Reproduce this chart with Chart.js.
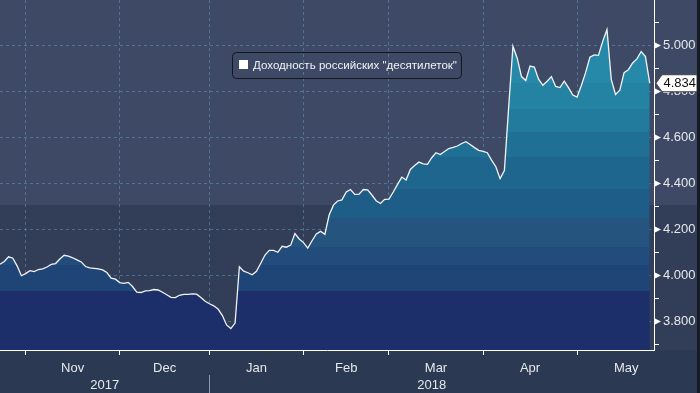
<!DOCTYPE html>
<html><head><meta charset="utf-8">
<script src="https://cdn.jsdelivr.net/npm/chart.js@4/dist/chart.umd.min.js"></script>
<style>html,body{margin:0;padding:0;background:#2c3952;overflow:hidden}canvas{display:block}</style>
</head><body>
<canvas id="c" width="700" height="393"></canvas>
<script>
// ---------- DATA ----------
const seriesLabel = 'Доходность российских "десятилеток"';
// daily (business day) yields, 24 Oct 2017 .. 23 May 2018, index = trading day
const yieldValues = [
  4.047,4.059,4.079,4.073,4.040,3.997,4.006,4.019,4.015,4.024,
  4.027,4.035,4.046,4.050,4.070,4.086,4.082,4.075,4.066,4.057,
  4.037,4.031,4.029,4.027,4.022,4.011,3.986,3.982,3.967,3.964,
  3.968,3.950,3.926,3.924,3.931,3.932,3.937,3.935,3.925,3.914,
  3.903,3.902,3.912,3.916,3.916,3.918,3.917,3.902,3.886,3.875,
  3.866,3.852,3.825,3.783,3.767,3.791,4.036,4.017,4.010,4.001,
  4.016,4.051,4.087,4.107,4.107,4.099,4.125,4.121,4.130,4.180,
  4.157,4.141,4.117,4.149,4.179,4.190,4.177,4.261,4.304,4.322,
  4.327,4.361,4.372,4.351,4.352,4.372,4.370,4.348,4.323,4.311,
  4.329,4.330,4.361,4.394,4.426,4.413,4.459,4.476,4.491,4.483,
  4.481,4.510,4.532,4.524,4.537,4.550,4.555,4.561,4.572,4.580,
  4.568,4.554,4.542,4.538,4.532,4.500,4.471,4.419,4.454,4.730,
  4.995,4.943,4.863,4.846,4.909,4.904,4.852,4.825,4.843,4.863,
  4.820,4.815,4.843,4.815,4.783,4.774,4.824,4.880,4.947,4.957,
  4.955,5.016,5.068,4.851,4.785,4.804,4.880,4.893,4.922,4.940,
  4.972,4.950,4.834
];
// trading-day index at which each month starts (last entry = end of May)
const monthStarts = [6, 28, 49, 71, 91, 113, 135, 158];
const monthLabels = ['Nov', 'Dec', 'Jan', 'Feb', 'Mar', 'Apr', 'May'];
const yearLabels = ['2017', '2018'];
const yearBoundary = 49;
const yTickValues = [3.7, 3.8, 3.9, 4.0, 4.1, 4.2, 4.3, 4.4, 4.5, 4.6, 4.7, 4.8, 4.9, 5.0, 5.1];

// ---------- STYLE ----------
const X_MIN = 0, X_MAX = 153.0;
const Y_MIN = 3.674, Y_MAX = 5.196;
const FONT = '"Liberation Sans", Arial, sans-serif';
const NARROW = '"Liberation Sans Narrow", "Liberation Sans", Arial, sans-serif';
const GRID = 'rgba(95,145,180,0.6)';
const TXT = '#e6e8ec';
const BG_LIGHT = '#3d4965', BG_DARK = '#323d57', BG_AXIS = '#2c3952';
const BG_SPLIT = 4.304;
const bandEdges = [4.835, 4.722, 4.622, 4.513, 4.374, 4.248, 4.122, 4.043, 3.930];
const bandColors = ['#2789a9', '#2483a3', '#227a9d', '#207096', '#1e668e', '#1d5d87', '#25547f', '#214c7b', '#1e4576', '#1c2f6a'];
const LEGEND_TEXT_WIDTH = 204;

const isMajor = v => Math.round(v * 10) % 2 === 0;

function bandFill(ctx) {
  const chart = ctx.chart;
  const area = chart.chartArea;
  const ys = chart.scales.y;
  if (!area || !ys) return bandColors[bandColors.length - 1];
  const g = chart.ctx.createLinearGradient(0, area.top, 0, area.bottom);
  const h = area.bottom - area.top;
  let prev = 0;
  for (let k = 0; k < bandColors.length; k++) {
    const end = k < bandEdges.length ? (ys.getPixelForValue(bandEdges[k]) - area.top) / h : 1;
    const a = Math.min(Math.max(prev, 0), 1), b = Math.min(Math.max(end, 0), 1);
    g.addColorStop(a, bandColors[k]);
    g.addColorStop(b, bandColors[k]);
    prev = end;
  }
  return g;
}

const bgPlugin = {
  id: 'bg',
  beforeDraw(chart) {
    const c = chart.ctx, a = chart.chartArea, ys = chart.scales.y;
    c.save();
    c.fillStyle = BG_DARK;
    c.fillRect(0, 0, chart.width, chart.height);
    const split = ys.getPixelForValue(BG_SPLIT);
    c.fillStyle = BG_LIGHT;
    c.fillRect(0, 0, chart.width, split);
    c.fillStyle = BG_AXIS;
    c.fillRect(0, a.bottom, chart.width, chart.height - a.bottom);
    c.restore();
  },
  afterDraw(chart) {
    const c = chart.ctx, a = chart.chartArea, ys = chart.scales.y;
    c.save();
    // triangles on major y ticks
    c.fillStyle = '#ffffff';
    yTickValues.filter(isMajor).forEach(v => {
      const py = Math.round(ys.getPixelForValue(v)) + 0.5;
      c.beginPath();
      c.moveTo(a.right + 1, py - 3);
      c.lineTo(a.right + 7, py);
      c.lineTo(a.right + 1, py + 3);
      c.closePath();
      c.fill();
    });
    // legend box
    c.font = '12px ' + FONT;
    const raw = c.measureText(seriesLabel).width;
    const fs = 12 * LEGEND_TEXT_WIDTH / raw;
    c.font = fs.toFixed(2) + 'px ' + FONT;
    const tw = c.measureText(seriesLabel).width;
    const lx = 232.5, ly = 52.5, lw = 21 + tw + 4, lh = 26;
    c.strokeStyle = '#14171d';
    c.lineWidth = 1;
    c.beginPath();
    c.roundRect(lx, ly, lw, lh, 4);
    c.stroke();
    c.fillStyle = '#ffffff';
    c.fillRect(239, 60, 9, 9);
    c.fillStyle = '#f0f2f4';
    c.textBaseline = 'middle';
    c.textAlign = 'left';
    c.fillText(seriesLabel, 253, 65.5);
    // last value label
    const last = yieldValues[yieldValues.length - 1];
    const py = ys.getPixelForValue(last);
    const x0 = a.right + 2, x1 = x0 + 6, x2 = 697;
    c.beginPath();
    c.moveTo(x0, py);
    c.lineTo(x1, py - 8.5);
    c.lineTo(x2, py - 8.5);
    c.lineTo(x2, py + 8.5);
    c.lineTo(x1, py + 8.5);
    c.closePath();
    c.fillStyle = '#ffffff';
    c.fill();
    c.strokeStyle = '#444';
    c.stroke();
    c.fillStyle = '#111111';
    c.font = '13px ' + FONT;
    c.textAlign = 'right';
    c.fillText(last.toFixed(3), x2 - 1, py + 0.5);
    // right frame strip
    c.fillStyle = '#161a22';
    c.fillRect(697, 0, 3, chart.height);
    c.restore();
  }
};

const common = { type: 'linear', min: X_MIN, max: X_MAX, offset: false };
const noPad = s => { s.paddingLeft = 0; s.paddingRight = 0; s.paddingTop = 0; s.paddingBottom = 0; };
const monthMids = monthLabels.map((m, i) => (monthStarts[i] + monthStarts[i + 1]) / 2);
const yearTicks = [(X_MIN + yearBoundary) / 2, yearBoundary, (yearBoundary + X_MAX) / 2];
const yearTickLabels = [yearLabels[0], '', yearLabels[1]];

new Chart(document.getElementById('c'), {
  type: 'line',
  data: {
    datasets: [{
      label: seriesLabel,
      data: yieldValues.map((v, i) => ({ x: i, y: v })),
      xAxisID: 'x', yAxisID: 'y',
      borderColor: '#f2f4f6',
      borderWidth: 1.3,
      pointRadius: 0,
      tension: 0,
      fill: 'start',
      backgroundColor: bandFill
    }]
  },
  options: {
    responsive: false,
    animation: false,
    devicePixelRatio: 1,
    layout: { padding: 0 },
    plugins: { legend: { display: false }, tooltip: { enabled: false } },
    scales: {
      x: {
        ...common, position: 'bottom', weight: 0, z: 1,
        afterBuildTicks: s => { s.ticks = monthStarts.slice(0, monthLabels.length).map(v => ({ value: v })); },
        afterFit: s => { s.height = 8; noPad(s); },
        ticks: { display: false },
        grid: { color: GRID, tickColor: '#ffffff', tickLength: 5, lineWidth: 1 },
        border: { display: true, color: '#ffffff', width: 1, dash: [3, 3] }
      },
      xm: {
        ...common, position: 'bottom', weight: 1,
        afterBuildTicks: s => { s.ticks = monthMids.map(v => ({ value: v })); },
        afterFit: s => { s.height = 17; noPad(s); },
        ticks: { autoSkip: false, maxRotation: 0, minRotation: 0, padding: 3, color: TXT,
                 font: { family: NARROW, size: 13 }, callback: (v, i) => monthLabels[i] },
        grid: { display: false, drawTicks: false },
        border: { display: false }
      },
      xy: {
        ...common, position: 'bottom', weight: 2,
        afterBuildTicks: s => { s.ticks = yearTicks.map(v => ({ value: v })); },
        afterFit: s => { s.height = 18; noPad(s); },
        ticks: { autoSkip: false, maxRotation: 0, minRotation: 0, padding: -15, color: TXT,
                 font: { family: NARROW, size: 13 }, callback: (v, i) => yearTickLabels[i] },
        grid: { display: true, drawOnChartArea: false, drawTicks: true, tickLength: 18,
                color: 'rgba(0,0,0,0)',
                tickColor: c => (c.tick && c.tick.value === yearBoundary) ? '#8d98aa' : 'rgba(0,0,0,0)' },
        border: { display: false }
      },
      y: {
        type: 'linear', position: 'right', min: Y_MIN, max: Y_MAX, z: 1,
        afterBuildTicks: s => { s.ticks = yTickValues.map(v => ({ value: v })); },
        afterFit: s => { s.width = 46; noPad(s); },
        ticks: { autoSkip: false, padding: 4, color: TXT, font: { family: FONT, size: 13 },
                 callback: v => isMajor(v) ? v.toFixed(3) : '' },
        grid: { color: c => (c.tick && isMajor(c.tick.value)) ? GRID : 'rgba(0,0,0,0)',
                tickColor: '#ffffff', tickLength: 5, lineWidth: 1 },
        border: { display: true, color: '#ffffff', width: 1, dash: [3, 3] }
      }
    }
  },
  plugins: [bgPlugin]
});
</script>
</body></html>
